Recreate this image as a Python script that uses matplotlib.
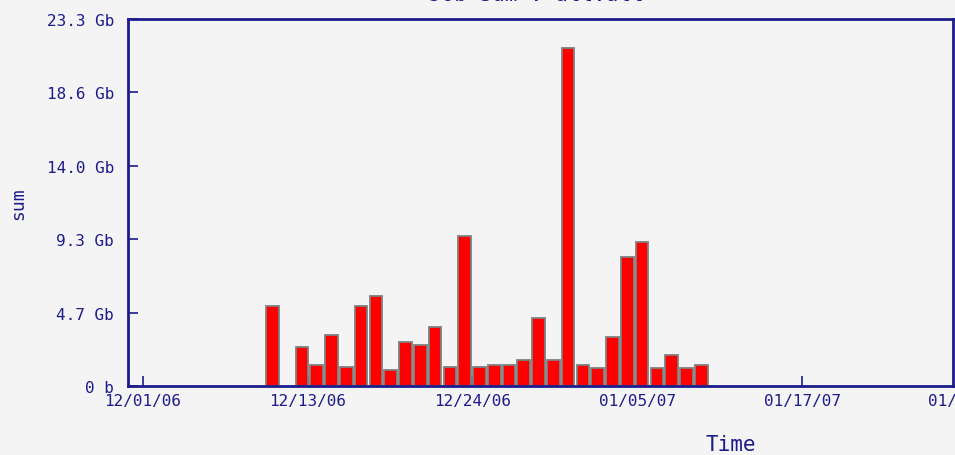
import matplotlib
matplotlib.use("Agg")
import matplotlib.pyplot as plt
import matplotlib.transforms as mtransforms
import numpy as np

# daily job sums in Gb, one value per bin (0 = no jobs that bin)
sums_gb = [5.10, 0.0, 2.46, 1.35, 3.24, 1.19, 5.10, 5.73, 1.03, 2.81,
           2.60, 3.73, 1.19, 9.52, 1.19, 1.35, 1.35, 1.67, 4.32, 1.67,
           21.46, 1.35, 1.14, 3.09, 8.21, 9.12, 1.14, 1.99, 1.14, 1.35]
first_bin_day = 9.25      # days after 12/01/06
bin_days = 1.054

x_ticks = [0, 11.75, 23.5, 35.25, 47]
x_labels = ['12/01/06', '12/13/06', '12/24/06', '01/05/07', '01/17/07']
extra_tick = 58.75
extra_label = '01/28/07'

y_ticks = [0, 4.66, 9.32, 13.98, 18.64, 23.3]
y_labels = ['0 b', '4.7 Gb', '9.3 Gb', '14.0 Gb', '18.6 Gb', '23.3 Gb']

navy = '#1c1c8a'
bg = '#f4f4f4'
plt.rcParams['font.family'] = 'DejaVu Sans Mono'

fig = plt.figure(figsize=(9.55, 4.56), dpi=100, facecolor=bg)
ax = fig.add_axes([0.134, 0.1513, 0.864, 0.805], facecolor=bg)

days = first_bin_day + bin_days * np.arange(len(sums_gb))
vals = np.array(sums_gb)
keep = vals > 0
ax.bar(days[keep], vals[keep], width=0.9, color='#ff0000',
       edgecolor='#808080', linewidth=1.3, zorder=2)

ax.set_xlim(-1.048, 57.77)
ax.set_ylim(0, 23.3)
ax.set_xticks(x_ticks)
ax.set_xticklabels(x_labels)
ax.set_yticks(y_ticks)
ax.set_yticklabels(y_labels)

# last date label sits past the right edge and gets cut by the figure
trans = mtransforms.blended_transform_factory(ax.transData, ax.transAxes)
ax.text(extra_tick, -0.02, extra_label, transform=trans, ha='center', va='top',
        fontsize=11.5, color=navy, clip_on=False)

for s in ax.spines.values():
    s.set_color(navy)
    s.set_linewidth(2)
ax.tick_params(direction='in', length=7, width=1.2, color=navy,
               labelcolor=navy, labelsize=11.5)
ax.tick_params(axis='y', pad=10)
ax.tick_params(axis='x', pad=5)

ax.set_ylabel('sum', fontsize=13, color=navy, labelpad=14)
fig.text(0.765, 0.01, 'Time', fontsize=15, color=navy, ha='center', va='baseline')
fig.text(0.562, 0.988, 'Job Sum : all:all', fontsize=15, color=navy,
         ha='center', va='bottom')

fig.savefig('out.png', dpi=100, facecolor=bg)
